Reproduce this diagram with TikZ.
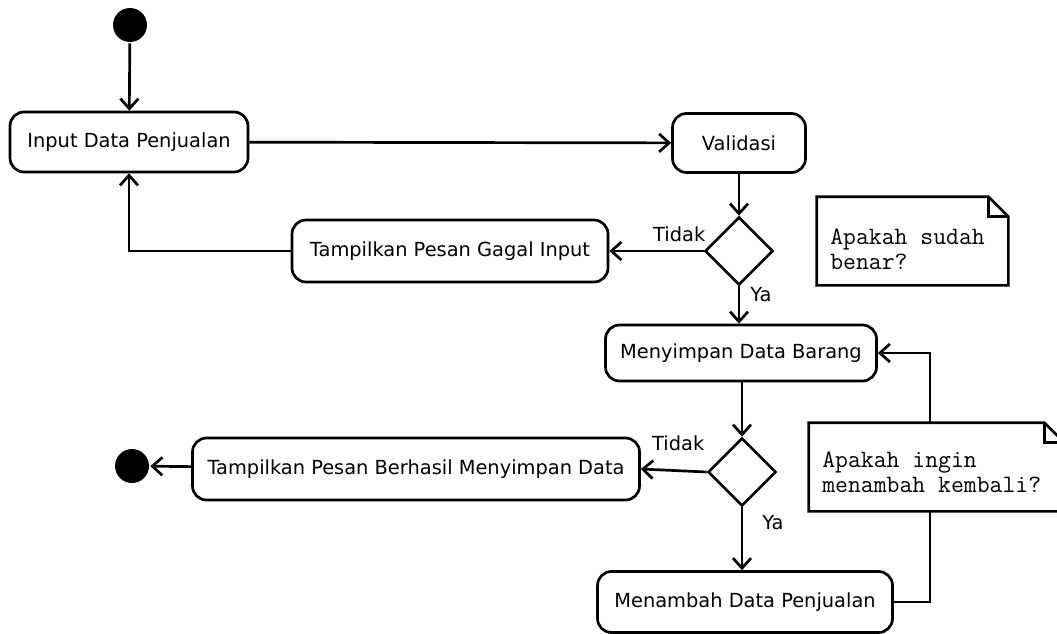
\documentclass[tikz,border=0pt]{standalone}
\usepackage{fontspec}
\setmainfont{DejaVu Sans}
\usetikzlibrary{arrows.meta}
\usetikzlibrary{shapes.geometric}
\newcommand{\dogear}[1]{%
  \draw[fill=white] (#1.north west) -- ([xshift=-20pt]#1.north east) -- ([yshift=-20pt]#1.north east) -- (#1.south east) -- (#1.south west) -- cycle;
  \draw ([xshift=-20pt]#1.north east) |- ([yshift=-20pt]#1.north east);}

\begin{document}
\begin{tikzpicture}[x=1pt, y=-1pt, line width=2.7pt,
  every node/.style={font=\fontsize{19.4}{22}\selectfont},
  act/.style={draw, rounded corners=14pt, inner sep=0pt},
  decide/.style={draw, diamond, minimum width=68pt, minimum height=68pt, inner sep=0pt},
  dot/.style={circle, fill=black, minimum size=34pt, inner sep=0pt},
  flow/.style={-{Straight Barb[length=10pt,width=18pt]}},
  guard/.style={inner sep=1pt},
  notebg/.style={inner sep=0pt},
  notetext/.style={font=\ttfamily\fontsize{25}{25}\selectfont, align=left, anchor=north west, inner sep=0pt}]
			\useasboundingbox (0,0) rectangle (1057,634);
			\node[dot] (start) at (130,25) {};
			\node[act, minimum width=238pt, minimum height=60pt] (input) at (129,142) {Input Data Penjualan};
			\node[act, minimum width=133pt, minimum height=59pt] (valid) at (739,143) {Validasi};
			\node[decide] (cek1) at (739,251) {};
			\node[act, minimum width=316pt, minimum height=62pt] (gagal) at (450,251) {Tampilkan Pesan Gagal Input};
			\node[act, minimum width=271pt, minimum height=56pt] (simpan) at (741,353) {Menyimpan Data Barang};
			\node[decide] (cek2) at (742,472) {};
			\node[act, minimum width=447pt, minimum height=62pt] (berhasil) at (416,469) {Tampilkan Pesan Berhasil Menyimpan Data};
			\node[dot] (end) at (132,466) {};
			\node[act, minimum width=295pt, minimum height=61pt] (tambah) at (745,602) {Menambah Data Penjualan};
			% alur
			\draw[flow] (start) -- (input);
			\draw[flow] (input) -- (valid);
			\draw[flow] (valid) -- (cek1);
			\draw[flow] (cek1.west) -- node[at start, anchor=south east, xshift=4pt, yshift=7pt, guard] {Tidak} (gagal.east);
			\draw[flow] (gagal.west) -| (input.south);
			\draw[flow] (cek1.south) -- node[at start, anchor=north west, xshift=9pt, yshift=1pt, guard] {Ya} (cek1.south |- simpan.north);
			\draw[flow] (simpan.south -| cek2) -- (cek2.north);
			\draw[flow] (cek2.west) -- node[at start, anchor=south east, yshift=19pt, guard] {Tidak} (berhasil.east);
			\draw[flow] (berhasil) -- (end);
			\draw[flow] (cek2.south) -- node[at start, anchor=north west, xshift=18pt, yshift=-6pt, guard] {Ya} (cek2.south |- tambah.north);
			\draw[flow] (tambah.east) -- ++(36,0) |- (simpan.east);
			% catatan
			\node[notebg, minimum width=189pt, minimum height=86pt] (note1) at (912.5,241) {};
			\dogear{note1}
			\node[notetext] (note1txt) at (829,228) {Apakah sudah\\benar?};
			\node[notebg, minimum width=253pt, minimum height=86pt] (note2) at (936.5,467) {};
			\dogear{note2}
			\node[notetext] (note2txt) at (821,451) {Apakah ingin\\menambah kembali?};
		\end{tikzpicture}
\end{document}
